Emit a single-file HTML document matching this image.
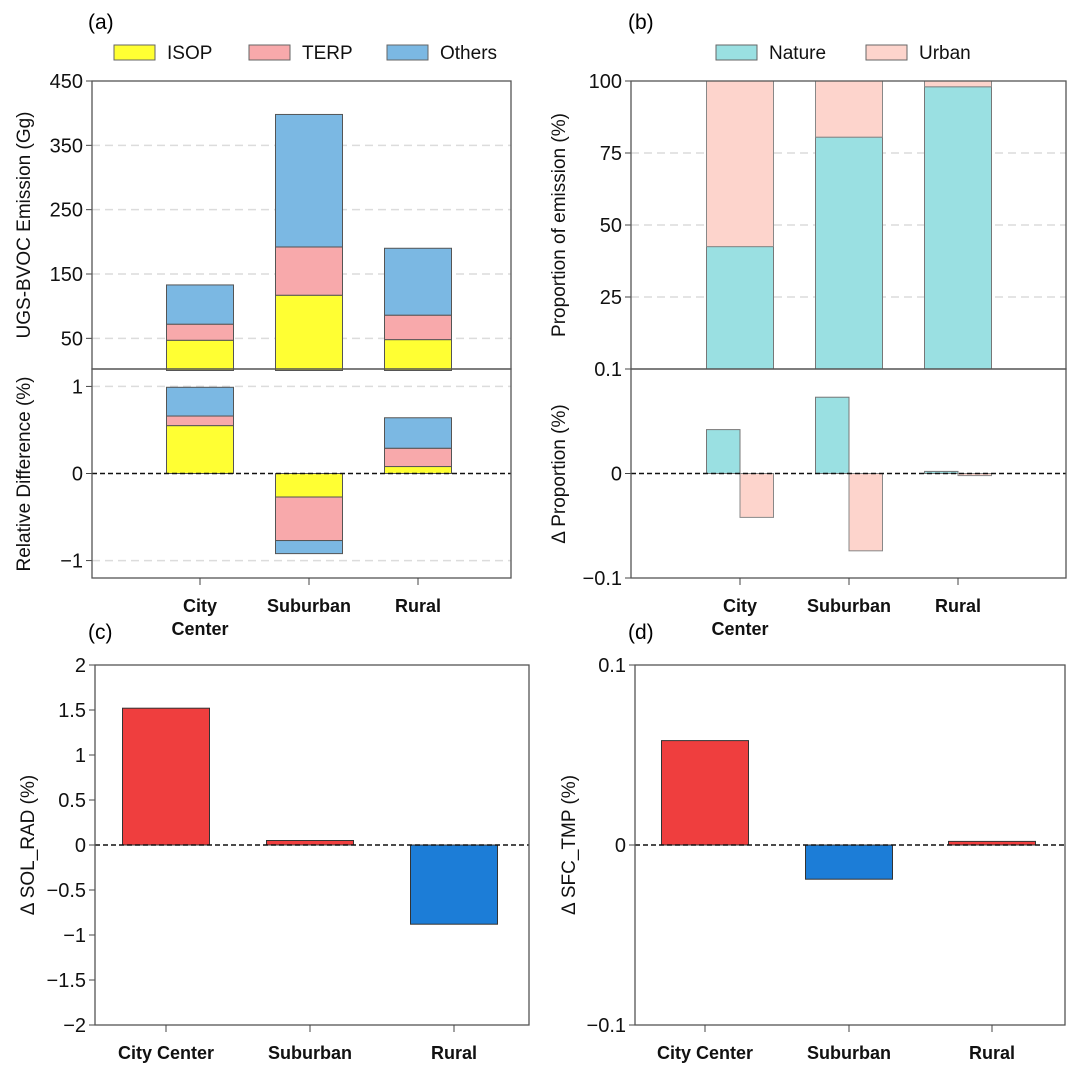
<!DOCTYPE html>
<html><head><meta charset="utf-8"><style>
body{margin:0;background:#fff}
svg{display:block;font-family:"Liberation Sans",sans-serif}
</style></head><body>
<svg id="fig" width="1077" height="1075"></svg>
<script>
const cats=["City Center","Suburban","Rural"];
// panel a upper (Gg)
const isopE=[47,117,48];
const terpE=[25,75,38];
const othersE=[61,206,104];
// panel a lower (%)
const isopD=[0.55,-0.27,0.08];
const terpD=[0.11,-0.50,0.21];
const othersD=[0.33,-0.15,0.35];
// panel b
const natureP=[42.5,80.5,98];
const urbanP=[57.5,19.5,2];
const natureD=[0.042,0.073,0.002];
const urbanD=[-0.042,-0.074,-0.002];
// panel c, d
const solRad=[1.52,0.05,-0.88];
const sfcTmp=[0.058,-0.019,0.002];
const ticksA=[50,150,250,350,450];
const ticksAL=[-1,0,1];
const ticksB=[25,50,75,100];
const ticksC=[2,1.5,1,0.5,0,-0.5,-1,-1.5,-2];
const ticksD=[0.1,0,-0.1];

const NS="http://www.w3.org/2000/svg";
const svg=document.getElementById('fig');
function el(tag,attrs,parent,text){const e=document.createElementNS(NS,tag);for(const k in attrs)e.setAttribute(k,attrs[k]);if(text!==undefined)e.textContent=text;(parent||svg).appendChild(e);return e;}
function lin(d0,d1,r0,r1){return v=>r0+(v-d0)/(d1-d0)*(r1-r0);}
const C={isop:"#ffff33",terp:"#f8a9ab",oth:"#7bb8e3",nat:"#9ae0e2",urb:"#fdd4cc",red:"#ef3e3e",blue:"#1c7dd7"};

function gridline(y,x0,x1){const l=el('line',{x1:x0,x2:x1,y1:y,y2:y,stroke:"#dcdcdc","stroke-width":1.5,"stroke-dasharray":"8,5"});}
function ytick(x,y,label){const t=el('line',{x1:x-6,x2:x,y1:y,y2:y,stroke:"#444"});
 const tx=el('text',{x:x-9,y:y+7,"text-anchor":"end","font-size":20,fill:"#111"},null,label);}
function rect(x,y0,y1,w,fill,stroke,name){const r=el('rect',{x:x,y:Math.min(y0,y1),width:w,height:Math.abs(y1-y0),fill:fill,stroke:stroke||"#555","stroke-width":1});}
function zero(y,x0,x1){const l=el('line',{x1:x0,x2:x1,y1:y,y2:y,stroke:"#111","stroke-width":1.4,"stroke-dasharray":"5,3"});}
function box(x0,y0,x1,y1){const b=el('rect',{x:x0,y:y0,width:x1-x0,height:y1-y0,fill:"none",stroke:"#555","stroke-width":1.3});}
function ylab(x,y,txt){const t=el('text',{x:x,y:y,transform:`rotate(-90 ${x} ${y})`,"text-anchor":"middle","font-size":19,fill:"#111"},null,txt);}
function panelLabel(x,y,t){const e=el('text',{x:x,y:y,"font-size":21,fill:"#000"},null,t);}
function xcat(x,yTick,labels,yText){const t=el('line',{x1:x,x2:x,y1:yTick,y2:yTick+7,stroke:"#444"});
 labels.forEach((s,i)=>{const e=el('text',{x:x,y:yText+i*23,"text-anchor":"middle","font-size":18,"font-weight":"bold",fill:"#111"},null,s);});}
function legend(x,y,fill,txt){rect(x,y,y+15,41,fill,"#666",'legend-swatch');const e=el('text',{x:x+53,y:y+14,"font-size":19,fill:"#111"},null,txt);}

// ===== Panel a =====
const aX0=92,aX1=511,aCx=[200,309,418],bw=67;
const yA=lin(0,450,370.5,81), yAL=lin(-1.2,1.2,578,369);
ticksA.forEach(v=>{if(v<450)gridline(yA(v),aX0,aX1);ytick(aX0,yA(v),String(v));});
ticksAL.forEach(v=>{if(v!==0)gridline(yAL(v),aX0,aX1);ytick(aX0,yAL(v),v<0?"\u2212"+Math.abs(v):String(v));});
cats.forEach((c,i)=>{const x=aCx[i]-bw/2;
 let a=isopE[i],b=a+terpE[i],t=b+othersE[i];
 rect(x,yA(0),yA(a),bw,C.isop,null,'bar-isop-emission');
 rect(x,yA(a),yA(b),bw,C.terp,null,'bar-terp-emission');
 rect(x,yA(b),yA(t),bw,C.oth,null,'bar-others-emission');
 a=isopD[i];b=a+terpD[i];t=b+othersD[i];
 rect(x,yAL(0),yAL(a),bw,C.isop,null,'bar-isop-diff');
 rect(x,yAL(a),yAL(b),bw,C.terp,null,'bar-terp-diff');
 rect(x,yAL(b),yAL(t),bw,C.oth,null,'bar-others-diff');
});
zero(yAL(0),aX0,aX1);
box(aX0,81,aX1,369);box(aX0,369,aX1,578);
[["City","Center"],["Suburban"],["Rural"]].forEach((l,i)=>xcat(aCx[i],578,l,612));
ylab(30,225,"UGS-BVOC Emission (Gg)");ylab(30,474,"Relative Difference (%)");
panelLabel(88,29,"(a)");
legend(114,45,C.isop,"ISOP");legend(249,45,C.terp,"TERP");legend(387,45,C.oth,"Others");

// ===== Panel b =====
const bX0=631,bX1=1066,bCx=[740,849,958];
const yB=lin(0,100,369,81), yBL=lin(-0.1,0.1,578,369);
ticksB.forEach(v=>{if(v<100)gridline(yB(v),bX0,bX1);ytick(bX0,yB(v),String(v));});
ytick(bX0,369,"0.1");
[0,-0.1].forEach(v=>ytick(bX0,yBL(v),v<0?"\u22120.1":"0"));
cats.forEach((c,i)=>{const x=bCx[i]-bw/2;
 rect(x,yB(0),yB(natureP[i]),bw,C.nat,"#777",'bar-nature-proportion');
 rect(x,yB(natureP[i]),yB(natureP[i]+urbanP[i]),bw,C.urb,"#888",'bar-urban-proportion');
 rect(x,yBL(0),yBL(natureD[i]),bw/2,C.nat,"#777",'bar-nature-delta');
 rect(x+bw/2,yBL(0),yBL(urbanD[i]),bw/2,C.urb,"#888",'bar-urban-delta');
});
zero(yBL(0),bX0,bX1);
box(bX0,81,bX1,369);box(bX0,369,bX1,578);
[["City","Center"],["Suburban"],["Rural"]].forEach((l,i)=>xcat(bCx[i],578,l,612));
ylab(565,225,"Proportion of emission (%)");ylab(565,474,"\u0394 Proportion (%)");
panelLabel(628,29,"(b)");
legend(716,45,C.nat,"Nature");legend(866,45,C.urb,"Urban");

// ===== Panel c =====
const cX0=95,cX1=529,cCx=[166,310,454],cw=87;
const yC=lin(-2,2,1025,665);
ticksC.forEach(v=>ytick(cX0,yC(v),v<0?"\u2212"+Math.abs(v):String(v)));
cats.forEach((c,i)=>rect(cCx[i]-cw/2,yC(0),yC(solRad[i]),cw,solRad[i]>=0?C.red:C.blue,"#333",'bar-sol-rad'));
zero(yC(0),cX0,cX1);box(cX0,665,cX1,1025);
cats.forEach((c,i)=>xcat(cCx[i],1025,[c],1059));
ylab(34,845,"\u0394 SOL_RAD (%)");panelLabel(88,639,"(c)");

// ===== Panel d =====
const dX0=635,dX1=1065,dCx=[705,849,992];
const yD=lin(-0.1,0.1,1025,665);
ticksD.forEach(v=>ytick(dX0,yD(v),v<0?"\u22120.1":String(v)));
cats.forEach((c,i)=>rect(dCx[i]-cw/2,yD(0),yD(sfcTmp[i]),cw,sfcTmp[i]>=0?C.red:C.blue,"#333",'bar-sfc-tmp'));
zero(yD(0),dX0,dX1);box(dX0,665,dX1,1025);
cats.forEach((c,i)=>xcat(dCx[i],1025,[c],1059));
ylab(575,845,"\u0394 SFC_TMP (%)");panelLabel(628,639,"(d)");
</script>
</body></html>
